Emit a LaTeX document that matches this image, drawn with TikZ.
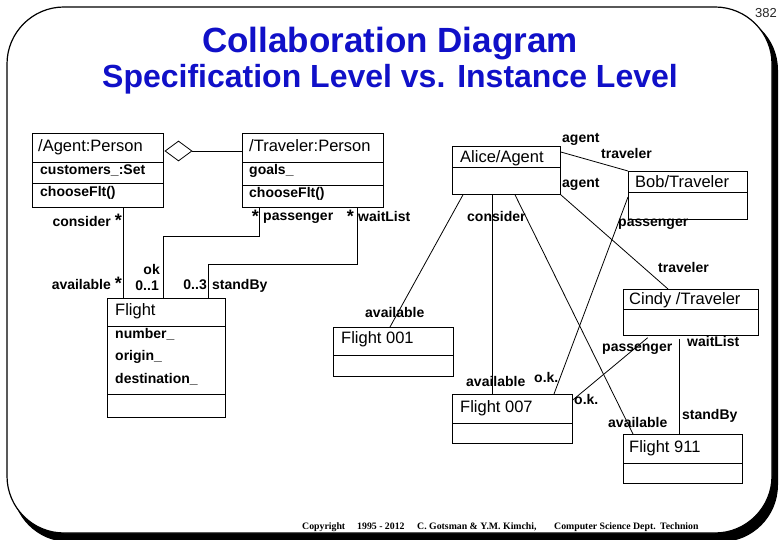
\documentclass[tikz,border=0pt]{standalone}
\usepackage{fontspec}
\setmainfont{Liberation Sans}
\newfontfamily\footfont{Liberation Serif}
\usetikzlibrary{shapes.geometric,calc,positioning}
\definecolor{titleblue}{RGB}{16,16,200}
\tikzset{
  box/.style={
    draw,
    line width=0.8pt,
    anchor=north west,
    inner sep=0pt
  },
  hdr/.style={
    anchor=base west,
    inner sep=0pt,
    font=\fontsize{16.5}{18}\selectfont
  },
  attr/.style={
    anchor=base west,
    inner sep=0pt,
    font=\bfseries\fontsize{14}{15}\selectfont
  },
  role/.style={
    anchor=base west,
    inner sep=0pt,
    font=\bfseries\fontsize{14}{15}\selectfont
  },
  link/.style={
    line width=0.8pt
  },
  aggr/.style={
    diamond,
    draw,
    line width=0.8pt,
    fill=white,
    inner sep=0pt,
    minimum width=27pt,
    minimum height=20pt
  },
  foot/.style={
    anchor=base west,
    inner sep=0pt,
    font=\footfont\bfseries\fontsize{9.8}{11}\selectfont
  }
}
\newcommand{\sep}[2]{\draw[link] ([yshift=-#2pt]#1.north west) -- ([yshift=-#2pt]#1.north east);}
\newcommand{\many}{{\fontsize{18}{18}\selectfont *}}

\begin{document}
\begin{tikzpicture}[x=1pt,y=-1pt]
\useasboundingbox (0,0) rectangle (780,540);

% slide frame
\fill[black,rounded corners=57pt] (12,13) rectangle (778,542);
\draw[fill=white,line width=1.2pt,rounded corners=57pt] (7,7) rectangle (772,533);
\node[anchor=base east,inner sep=0pt,text=black!85,font=\fontsize{13}{14}\selectfont] (pagenum) at (777,18) {382};

% title
\node[anchor=base,inner sep=0pt,text=titleblue,font=\bfseries\fontsize{35}{40}\selectfont] (title) at (390,53) {Collaboration Diagram};
\node[anchor=base,inner sep=0pt,text=titleblue,font=\bfseries\fontsize{32}{36}\selectfont] (subtitle) at (390,88) {Specification Level vs. Instance Level};

% specification level
\node[box,minimum width=131pt,minimum height=74pt] (agent) at (32,133) {};
\sep{agent}{29} \sep{agent}{50}
\node[hdr] (agentname) at (38,152) {/Agent:Person};
\node[attr] (agentattr) at (40,175) {customers\_:Set};
\node[attr] (agentop) at (40,197) {chooseFlt()};

\node[box,minimum width=141pt,minimum height=74pt] (trav) at (242,133) {};
\sep{trav}{29} \sep{trav}{52}
\node[hdr] (travname) at (249,152) {/Traveler:Person};
\node[attr] (travattr) at (249,175) {goals\_};
\node[attr] (travop) at (249,198) {chooseFlt()};

\node[aggr] (agg) at (178.5,151) {};
\draw[link] (agg.east) -- (agg.east -| trav.west);

\node[box,minimum width=118pt,minimum height=119pt] (flight) at (107,298) {};
\sep{flight}{28} \sep{flight}{96}
\node[hdr] (flightname) at (115,316) {Flight};
\node[attr] (fnum) at (115,339) {number\_};
\node[attr] (forig) at (115,361) {origin\_};
\node[attr] (fdest) at (115,384) {destination\_};

\draw[link] ([xshift=91pt]agent.south west) -- ([xshift=16pt]flight.north west);
\draw[link] ([xshift=17pt]trav.south west) -- ++(0,29) -| ([xshift=56pt]flight.north west);
\draw[link] ([xshift=115pt]trav.south west) -- ++(0,57) -| ([xshift=101pt]flight.north west);

\node[role,anchor=base east] (r1) at (122,227) {consider \many};
\node[role,anchor=base east] (r2) at (122,290) {available \many};
\node[role,anchor=base east] (r3) at (160,275) {ok};
\node[role,anchor=base east] (r4) at (159,291) {0..1};
\node[role,anchor=base east] (r5) at (207,290) {0..3};
\node[role] (r6) at (212,290) {standBy};
\node[role,anchor=base east] (r7) at (259,223) {\many};
\node[role] (r8) at (263,221) {passenger};
\node[role,anchor=base east] (r9) at (354,223) {\many};
\node[role] (r10) at (358,222) {waitList};

% instance level
\node[box,minimum width=108pt,minimum height=48pt] (alice) at (452,146) {};
\sep{alice}{21}
\node[hdr] (alicename) at (460,163) {Alice/Agent};

\node[box,minimum width=119pt,minimum height=48pt] (bob) at (628,171) {};
\sep{bob}{21}
\node[hdr] (bobname) at (635,188) {Bob/Traveler};

\node[box,minimum width=135pt,minimum height=46pt] (cindy) at (623,289) {};
\sep{cindy}{20}
\node[hdr] (cindyname) at (629,305) {Cindy /Traveler};

\node[box,minimum width=120pt,minimum height=49pt] (fa) at (333,327) {};
\sep{fa}{28}
\node[hdr] (faname) at (341,344) {Flight 001};

\node[box,minimum width=120pt,minimum height=49pt] (fb) at (452,394) {};
\sep{fb}{29}
\node[hdr] (fbname) at (460,412) {Flight 007};

\node[box,minimum width=119pt,minimum height=49pt] (fc) at (623,434) {};
\sep{fc}{29}
\node[hdr] (fcname) at (629,452) {Flight 911};

\draw[link] ([yshift=-6pt]alice.north east) -- (bob.north west);
\draw[link] (alice.south east) -- ([xshift=45pt]cindy.north west);
\draw[link] ([xshift=11pt]alice.south west) -- ([xshift=57pt]fa.north west);
\draw[link] ([xshift=40pt]alice.south west) -- ([xshift=40pt]fb.north west);
\draw[link] ([xshift=63pt]alice.south west) -- ([xshift=10pt]fc.north west);
\draw[link] ([yshift=-26pt]bob.north west) -- ([xshift=102pt]fb.north west);
\draw[link,shorten <=3pt] ([xshift=27pt]cindy.south west) -- ([yshift=-6pt]fb.north east);
\draw[link,shorten <=3pt] ([xshift=56pt]cindy.south west) -- ([xshift=56pt]fc.north west);

\node[role] (s1) at (562,143) {agent};
\node[role] (s2) at (601,159) {traveler};
\node[role] (s3) at (562,188) {agent};
\node[role] (s4) at (658,273) {traveler};
\node[role] (s5) at (467,222) {consider};
\node[role] (s6) at (365,318) {available};
\node[role] (s7) at (466,387) {available};
\node[role] (s8) at (608,427) {available};
\node[role] (s9) at (618,227) {passenger};
\node[role] (s10) at (534,382) {o.k.};
\node[role] (s11) at (602,352) {passenger};
\node[role] (s12) at (574,404) {o.k.};
\node[role] (s13) at (687,347) {waitList};
\node[role] (s14) at (682,420) {standBy};

% footer
\node[foot] (c1) at (302,529) {Copyright};
\node[foot] (c2) at (357,529) {1995 - 2012};
\node[foot] (c3) at (417,529) {C. Gotsman \& Y.M. Kimchi,};
\node[foot] (c4) at (554,529) {Computer Science Dept.};
\node[foot] (c5) at (660,529) {Technion};
\end{tikzpicture}
\end{document}
